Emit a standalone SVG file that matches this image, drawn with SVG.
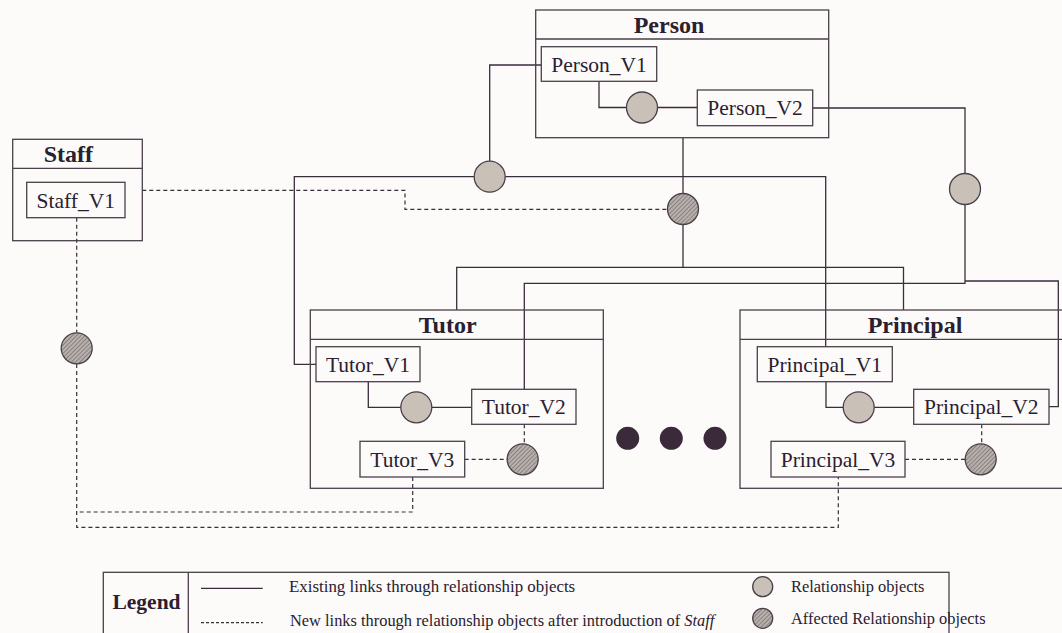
<svg xmlns="http://www.w3.org/2000/svg" width="1062" height="633" viewBox="0 0 1062 633">
  <style>
    .box { fill: none; stroke: #4a3f4a; stroke-width: 1.3; }
    .ver { fill: #fcfbfa; stroke: #4a3f4a; stroke-width: 1.3; }
    .title { font-family: "Liberation Serif", "Times New Roman", serif; font-weight: bold; font-size: 24px; fill: #2a2030; text-anchor: middle; }
    .lbl { font-family: "Liberation Serif", "Times New Roman", serif; font-size: 21.5px; fill: #2a2030; text-anchor: middle; }
    .leg { font-family: "Liberation Serif", "Times New Roman", serif; font-size: 16.4px; fill: #2a2030; }
    .link { fill: none; stroke: #3a2e3a; stroke-width: 1.3; }
    .newlink { fill: none; stroke: #3a2e3a; stroke-width: 1.2; stroke-dasharray: 4 3; }
    .rel { fill: #c9c1b7; stroke: #4a3f4a; stroke-width: 1.3; }
    .aff { fill: url(#hatch); stroke: #4a3f4a; stroke-width: 1.3; }
    .dot { fill: #3a2a3a; }
  </style>
  <defs>
    <pattern id="hatch" width="3" height="3" patternUnits="userSpaceOnUse" patternTransform="rotate(45)">
      <rect width="3" height="3" fill="#b8b1ab"/>
      <line x1="0" y1="0" x2="0" y2="3" stroke="#625860" stroke-width="1.1"/>
    </pattern>
  </defs>

  <rect width="1062" height="633" fill="#fcfbfa"/>

  <!-- connectors -->
  <g id="connectors">
    <!-- existing links -->
    <path class="link" d="M541.3,65 H489.7 V161.2"/>
    <path class="link" d="M316,364.3 H294.3 V176.7 H474.2"/>
    <path class="link" d="M505.2,176.7 H825.7 V346.7"/>
    <path class="link" d="M599,81.3 V107.5 H626.5"/>
    <path class="link" d="M657.5,107.5 H697.3"/>
    <path class="link" d="M812.7,108 H965 V173.3"/>
    <path class="link" d="M965,204.7 V283.3 H524.3 V389.3"/>
    <path class="link" d="M965,281 H1058.3 V406.7 H1049"/>
    <path class="link" d="M683,137.7 V193.5"/>
    <path class="link" d="M683,224.5 V267.3"/>
    <path class="link" d="M456.7,310 V267.3 H903.5 V310"/>
    <path class="link" d="M368.3,381.7 V407.3 H400.8"/>
    <path class="link" d="M431.8,407.3 H471.7"/>
    <path class="link" d="M826,381.7 V407.3 H843.2"/>
    <path class="link" d="M874.2,407.3 H913.7"/>
    <!-- new links after Staff -->
    <path class="newlink" d="M142.3,190.3 H405 V209.3 H667.5"/>
    <path class="newlink" d="M76.7,217.7 V332.6"/>
    <path class="newlink" d="M76.7,364 V527.3 H838.3 V477"/>
    <path class="newlink" d="M412.7,477 V512 H76.7"/>
    <path class="newlink" d="M464.7,459.3 H507.2"/>
    <path class="newlink" d="M524.3,424.3 V443.8"/>
    <path class="newlink" d="M905,459.3 H965.2"/>
    <path class="newlink" d="M981.7,424.3 V443.8"/>
  </g>

  <!-- relationship objects -->
  <g id="relationships">
    <circle class="rel" cx="642" cy="107.5" r="15.5"/>
    <circle class="rel" cx="489.7" cy="176.7" r="15.5"/>
    <circle class="rel" cx="965" cy="189" r="15.5"/>
    <circle class="aff" cx="683" cy="209" r="15.5"/>
    <circle class="aff" cx="76.7" cy="348.3" r="15.5"/>
    <circle class="rel" cx="416.3" cy="407.3" r="15.5"/>
    <circle class="aff" cx="522.7" cy="459.3" r="15.5"/>
    <circle class="rel" cx="858.7" cy="407.3" r="15.5"/>
    <circle class="aff" cx="980.7" cy="459.3" r="15.5"/>
  </g>

  <!-- Person -->
  <g id="person">
    <rect class="box" x="535.7" y="10" width="293" height="127.7"/>
    <line class="box" x1="535.7" y1="39" x2="828.7" y2="39"/>
    <text class="title" x="669" y="33">Person</text>
    <g id="person_v1">
      <rect class="ver" x="541.3" y="46.7" width="115.4" height="34.6"/>
      <text class="lbl" x="599" y="71.5">Person_V1</text>
    </g>
    <g id="person_v2">
      <rect class="ver" x="697.3" y="90" width="115.4" height="35.7"/>
      <text class="lbl" x="755" y="115.3">Person_V2</text>
    </g>
  </g>

  <!-- Staff -->
  <g id="staff">
    <rect class="box" x="12.7" y="139.3" width="129.6" height="101.4"/>
    <line class="box" x1="12.7" y1="168.3" x2="142.3" y2="168.3"/>
    <text class="title" x="68.3" y="161.7">Staff</text>
    <g id="staff_v1">
      <rect class="ver" x="26.7" y="182.3" width="98.3" height="35.4"/>
      <text class="lbl" x="75.8" y="207.5">Staff_V1</text>
    </g>
  </g>

  <!-- Tutor -->
  <g id="tutor">
    <rect class="box" x="310.3" y="310" width="293" height="178.3"/>
    <line class="box" x1="310.3" y1="339.3" x2="603.3" y2="339.3"/>
    <text class="title" x="447.7" y="332.7">Tutor</text>
    <g id="tutor_v1">
      <rect class="ver" x="316" y="346.7" width="104" height="35"/>
      <text class="lbl" x="368" y="371.7">Tutor_V1</text>
    </g>
    <g id="tutor_v2">
      <rect class="ver" x="471.7" y="389.3" width="104.3" height="35"/>
      <text class="lbl" x="523.8" y="414.3">Tutor_V2</text>
    </g>
    <g id="tutor_v3">
      <rect class="ver" x="360" y="441.3" width="104.7" height="35.7"/>
      <text class="lbl" x="412.3" y="466.7">Tutor_V3</text>
    </g>
  </g>

  <!-- Principal -->
  <g id="principal">
    <rect class="box" x="740" y="310" width="340" height="178.3"/>
    <line class="box" x1="740" y1="339.3" x2="1080" y2="339.3"/>
    <text class="title" x="915" y="332.7">Principal</text>
    <g id="principal_v1">
      <rect class="ver" x="757.3" y="346.7" width="135" height="35"/>
      <text class="lbl" x="824.8" y="371.7">Principal_V1</text>
    </g>
    <g id="principal_v2">
      <rect class="ver" x="913.7" y="389.3" width="135.3" height="35"/>
      <text class="lbl" x="981.3" y="414.3">Principal_V2</text>
    </g>
    <g id="principal_v3">
      <rect class="ver" x="771" y="441.3" width="134" height="35.7"/>
      <text class="lbl" x="838" y="466.7">Principal_V3</text>
    </g>
  </g>

  <!-- ellipsis -->
  <g id="more">
    <circle class="dot" cx="627.7" cy="438.3" r="11.5"/>
    <circle class="dot" cx="671.3" cy="438.3" r="11.5"/>
    <circle class="dot" cx="715" cy="438.3" r="11.5"/>
  </g>

  <!-- Legend -->
  <g id="legend">
    <rect class="box" x="103.3" y="572.3" width="845.7" height="70"/>
    <line class="box" x1="188.3" y1="572.3" x2="188.3" y2="633"/>
    <text class="title" x="146.5" y="609.3" style="font-size:21.5px">Legend</text>
    <line class="link" x1="201" y1="588.3" x2="262.7" y2="588.3"/>
    <line class="newlink" x1="201" y1="622.7" x2="262.7" y2="622.7" style="stroke-dasharray:3 2"/>
    <text class="leg" x="289" y="592.3" style="font-size:16.9px">Existing links through relationship objects</text>
    <text class="leg" x="290" y="625.7">New links through relationship objects after introduction of <tspan font-style="italic">Staff</tspan></text>
    <circle class="rel" cx="762.7" cy="586.7" r="10"/>
    <circle class="aff" cx="762.7" cy="618.3" r="10"/>
    <text class="leg" x="791" y="592.3">Relationship objects</text>
    <text class="leg" x="791" y="624">Affected Relationship objects</text>
  </g>
</svg>
